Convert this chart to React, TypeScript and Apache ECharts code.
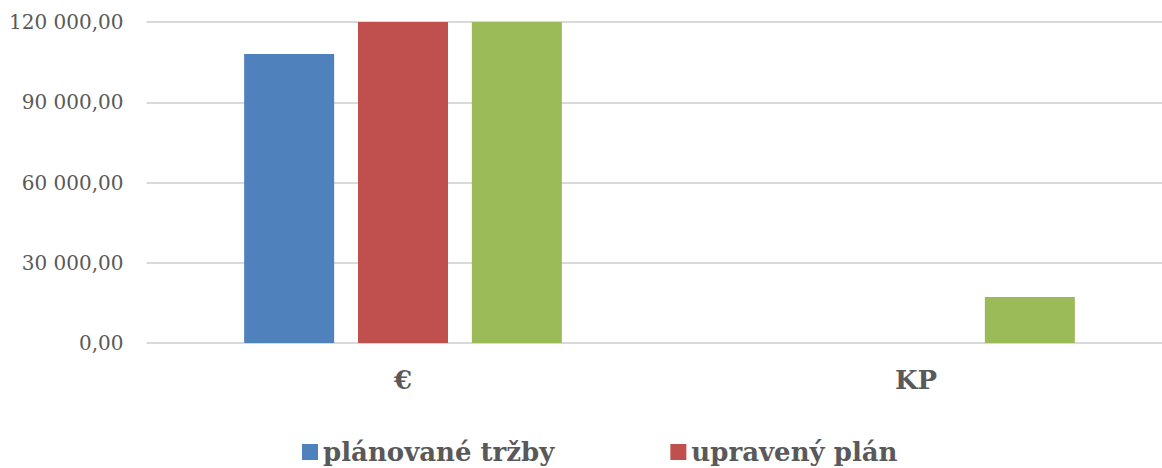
import React, { useEffect, useRef } from "react";
import * as echarts from "echarts";

const categories = ["€", "KP"];
const seriesNames = ["plánované tržby", "upravený plán", "skutočnosť"];
const planned = [108000, 0];
const adjusted = [120000, 0];
const actual = [120000, 17200];
const colors = ["#4F81BD", "#C0504D", "#9BBB59"];
const FONT = "DejaVu Serif";

function fmt(v: number): string {
  const fixed = v.toFixed(2);
  const [intPart, dec] = fixed.split(".");
  const withSpaces = intPart.replace(/\B(?=(\d{3})+(?!\d))/g, " ");
  return withSpaces + "," + dec;
}

export default function App() {
  const ref = useRef<HTMLDivElement>(null);
  useEffect(() => {
    if (!ref.current) return;
    const chart = echarts.init(ref.current, undefined, { renderer: "svg" });
    const values = [planned, adjusted, actual];
    chart.setOption({
      animation: false,
      textStyle: { fontFamily: FONT },
      legend: {
        data: [seriesNames[0], seriesNames[1]],
        top: 434,
        left: 297,
        itemWidth: 16,
        itemHeight: 16,
        itemGap: 116,
        icon: "rect",
        textStyle: { fontFamily: FONT, fontSize: 26, fontWeight: "bold", color: "#595959", lineHeight: 26 },
      },
      grid: {
        left: 146.5,
        width: 1026,
        top: 22,
        height: 321,
        containLabel: false,
        outerBoundsMode: "none",
      },
      xAxis: {
        type: "category",
        data: categories,
        axisLine: { show: false },
        axisTick: { show: false },
        axisLabel: { fontFamily: FONT, fontSize: 26, fontWeight: "bold", color: "#595959", margin: 24 },
      },
      yAxis: {
        type: "value",
        min: 0,
        max: 120000,
        interval: 30000,
        axisLine: { show: false },
        axisTick: { show: false },
        splitLine: { lineStyle: { color: "#D9D9D9", width: 2 } },
        axisLabel: {
          fontFamily: FONT,
          fontSize: 20,
          color: "#595959",
          margin: 23,
          formatter: (v: number) => fmt(v),
        },
      },
      series: values.map((d, i) => ({
        name: seriesNames[i],
        type: "bar",
        data: d,
        barWidth: 90,
        barGap: "26.5%",
        itemStyle: { color: colors[i] },
      })),
    });
    return () => chart.dispose();
  }, []);
  return <div ref={ref} style={{ width: 1162, height: 468, position: "absolute", left: 0, top: 0 }} />;
}
